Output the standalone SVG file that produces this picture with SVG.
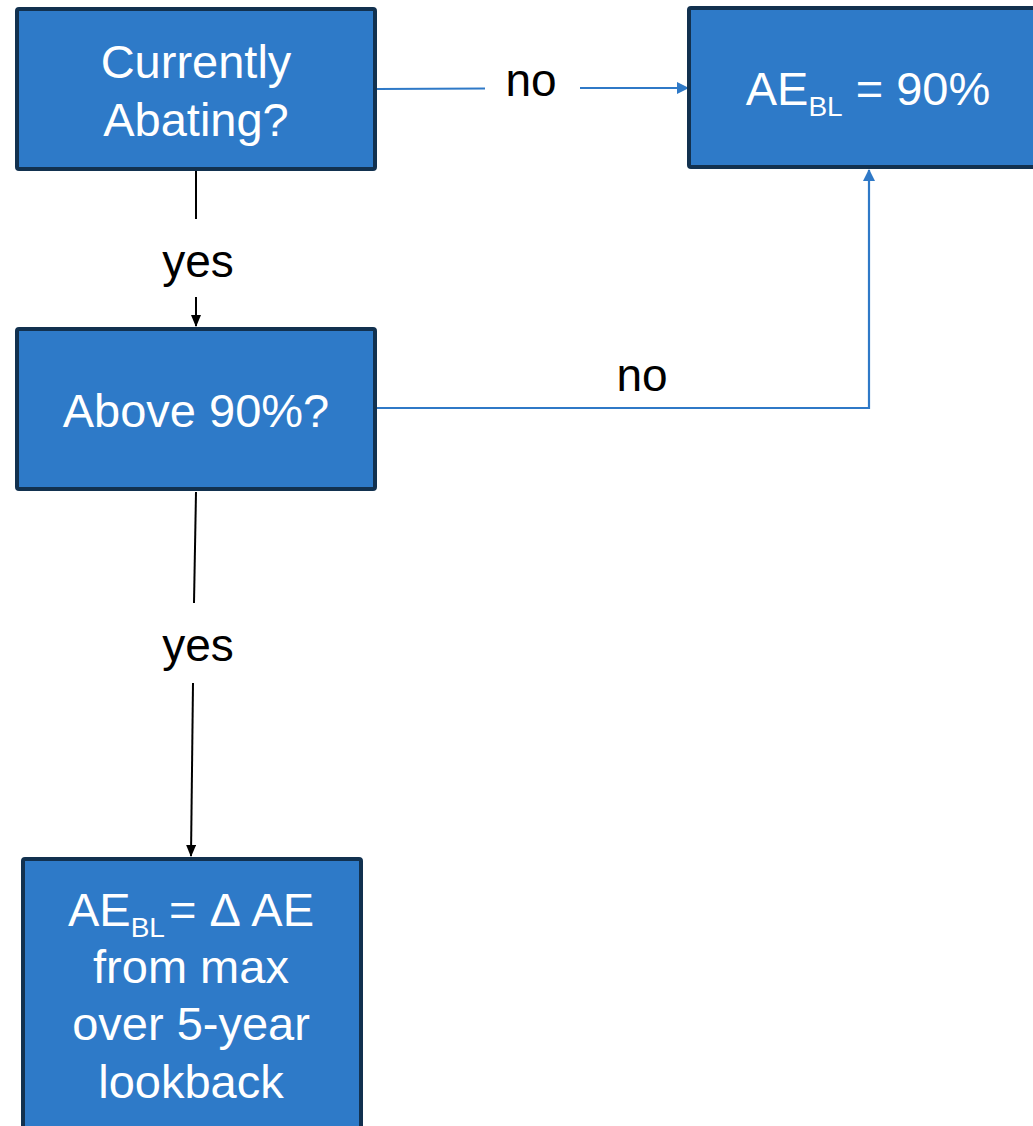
<svg xmlns="http://www.w3.org/2000/svg" width="1033" height="1126" viewBox="0 0 1033 1126">
<style>
.box{fill:#2E7AC8;stroke:#12314F;stroke-width:4}
.bt{font-family:"Liberation Sans",Arial,sans-serif;font-size:47px;fill:#FFFFFF;text-anchor:middle}
.lb{font-family:"Liberation Sans",Arial,sans-serif;font-size:46px;fill:#000000;text-anchor:middle}
.blk{stroke:#000000;stroke-width:2;fill:none}
.blu{stroke:#2F79C7;stroke-width:2.2;fill:none}
</style>
<defs>
<marker id="ak" markerWidth="12" markerHeight="10" refX="11" refY="5" orient="auto" markerUnits="userSpaceOnUse"><path d="M0,0 L12,5 L0,10 Z" fill="#000000"/></marker>
<marker id="ab" markerWidth="12" markerHeight="12" refX="11" refY="6" orient="auto" markerUnits="userSpaceOnUse"><path d="M0,0 L12,6 L0,12 Z" fill="#2F79C7"/></marker>
</defs>
<rect width="1033" height="1126" fill="#FFFFFF"/>
<g id="connectors">
<line class="blu" x1="377" y1="89" x2="485" y2="88.5"/>
<line class="blu" x1="580" y1="88" x2="688" y2="88" marker-end="url(#ab)"/>
<text class="lb" x="531" y="96">no</text>
<polyline class="blu" points="377,408 869,408 869,170" marker-end="url(#ab)"/>
<text class="lb" x="642" y="391">no</text>
<line class="blk" x1="196" y1="171" x2="196" y2="219"/>
<line class="blk" x1="196" y1="297" x2="196" y2="326" marker-end="url(#ak)"/>
<text class="lb" x="198" y="277">yes</text>
<line class="blk" x1="196" y1="492" x2="194" y2="603"/>
<line class="blk" x1="193" y1="683" x2="191" y2="856" marker-end="url(#ak)"/>
<text class="lb" x="198" y="661">yes</text>
</g>
<g id="node-currently-abating">
<rect class="box" x="17" y="9" width="358" height="160" rx="2"/>
<text class="bt" x="196" y="78">Currently</text>
<text class="bt" x="196" y="136">Abating?</text>
</g>
<g id="node-ae-90">
<rect class="box" x="689" y="8" width="400" height="159" rx="2"/>
<text class="bt" x="868" y="105">AE<tspan font-size="28" dy="11">BL</tspan><tspan dy="-11"> = 90%</tspan></text>
</g>
<g id="node-above-90">
<rect class="box" x="17" y="329" width="358" height="160" rx="2"/>
<text class="bt" x="196" y="427">Above 90%?</text>
</g>
<g id="node-ae-delta">
<rect class="box" x="23" y="859" width="338" height="290" rx="2"/>
<text class="bt" x="191" y="926">AE<tspan font-size="28" dy="11">BL</tspan><tspan dy="-11" dx="4">= Δ AE</tspan></text>
<text class="bt" x="191" y="983">from max</text>
<text class="bt" x="191" y="1040">over 5-year</text>
<text class="bt" x="191" y="1098">lookback</text>
</g>
</svg>
